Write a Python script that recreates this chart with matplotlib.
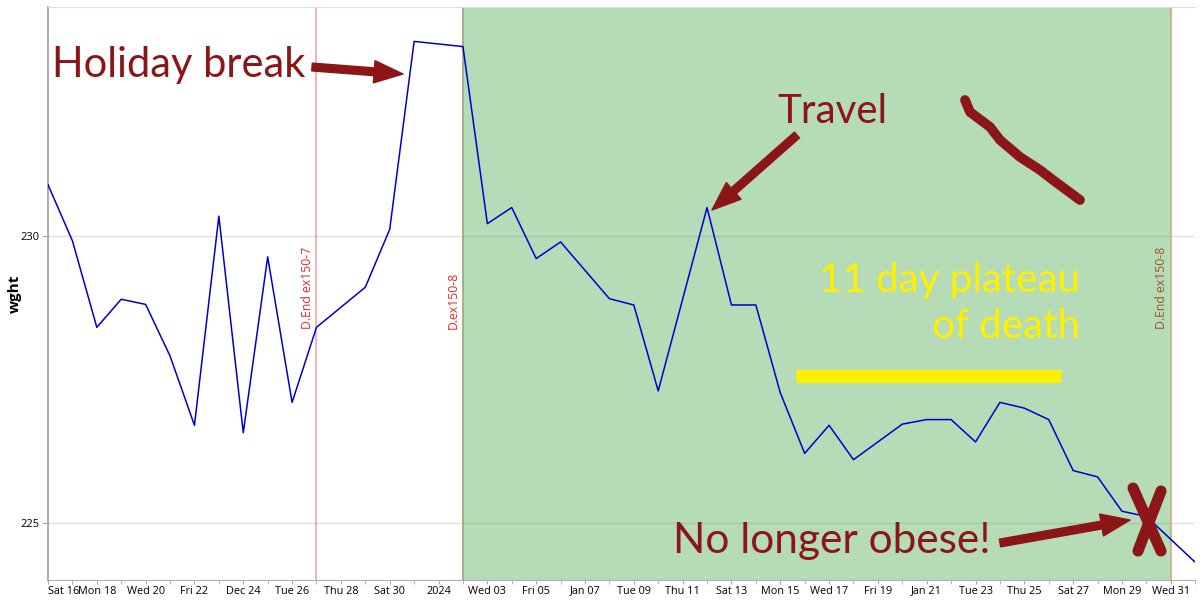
import datetime as dt
import matplotlib
matplotlib.use("Agg")
import matplotlib.pyplot as plt
import matplotlib.dates as mdates

# ---- data ----
dates = ["2023-12-16", "2023-12-17", "2023-12-18", "2023-12-19", "2023-12-20",
         "2023-12-21", "2023-12-22", "2023-12-23", "2023-12-24", "2023-12-25",
         "2023-12-26", "2023-12-27", "2023-12-29", "2023-12-30", "2023-12-31",
         "2024-01-02", "2024-01-03", "2024-01-04", "2024-01-05", "2024-01-06",
         "2024-01-08", "2024-01-09", "2024-01-10", "2024-01-12", "2024-01-13",
         "2024-01-14", "2024-01-15", "2024-01-16", "2024-01-17", "2024-01-18",
         "2024-01-20", "2024-01-21", "2024-01-22", "2024-01-23", "2024-01-24",
         "2024-01-25", "2024-01-26", "2024-01-27", "2024-01-28", "2024-01-29",
         "2024-01-30", "2024-02-01"]
wght = [230.90, 229.92, 228.41, 228.90, 228.81,
        227.91, 226.70, 230.35, 226.57, 229.64,
        227.10, 228.41, 229.11, 230.12, 233.40,
        233.31, 230.22, 230.50, 229.61, 229.90,
        228.91, 228.80, 227.30, 230.50, 228.80,
        228.80, 227.27, 226.21, 226.70, 226.10,
        226.72, 226.80, 226.80, 226.41, 227.10,
        227.00, 226.80, 225.91, 225.80, 225.20,
        225.11, 224.31]

tick_dates = ["2023-12-16", "2023-12-18", "2023-12-20", "2023-12-22", "2023-12-24",
              "2023-12-26", "2023-12-28", "2023-12-30", "2024-01-01", "2024-01-03",
              "2024-01-05", "2024-01-07", "2024-01-09", "2024-01-11", "2024-01-13",
              "2024-01-15", "2024-01-17", "2024-01-19", "2024-01-21", "2024-01-23",
              "2024-01-25", "2024-01-27", "2024-01-29", "2024-01-31"]
tick_labels = ["Sat 16", "Mon 18", "Wed 20", "Fri 22", "Dec 24", "Tue 26", "Thu 28",
               "Sat 30", "2024", "Wed 03", "Fri 05", "Jan 07", "Tue 09", "Thu 11",
               "Sat 13", "Mon 15", "Wed 17", "Fri 19", "Jan 21", "Tue 23", "Thu 25",
               "Sat 27", "Mon 29", "Wed 31"]
yticks = [225, 230]

events = ["2023-12-27", "2024-01-02", "2024-01-31"]
event_labels = ["D.End ex150-7", "D.ex150-8", "D.End ex150-8"]
event_line_colors = ["#f2a6a6", "#a3a37a", "#c9ad82"]
event_text_colors = ["#e8282a", "#e8282a", "#a0522d"]
shade_span = ["2024-01-02", "2024-01-31"]

def d(s):
    return dt.datetime.strptime(s, "%Y-%m-%d")

x = [d(s) for s in dates]

fig = plt.figure(figsize=(12, 6), dpi=100)
ax = fig.add_axes([0.04, 0.0333, 0.956, 0.955])

ax.axvspan(d(shade_span[0]), d(shade_span[1]), color="#b5dbb7", zorder=0, lw=0)
for e, lc in zip(events, event_line_colors):
    ax.axvline(d(e), color=lc, lw=1.2, zorder=1)

ax.plot(x, wght, color="#0000cc", lw=1.1, zorder=3)

ax.set_xlim(d("2023-12-16"), d("2024-02-01"))
ax.set_ylim(224.0, 234.0)
ax.set_yticks(yticks)
ax.set_yticklabels([str(v) for v in yticks], fontsize=8, family="Open Sans")
ax.set_xticks([d(s) for s in tick_dates])
ax.set_xticklabels(tick_labels, fontsize=7.8, family="Open Sans")
ax.xaxis.set_minor_locator(mdates.DayLocator())
ax.tick_params(axis="x", which="both", length=3, color="#aaaaaa", pad=1)
ax.tick_params(axis="y", length=4, color="#aaaaaa", pad=2)
for lbl in ax.get_xticklabels()[:1]:
    lbl.set_horizontalalignment("left")
ax.grid(axis="y", color="#888888", alpha=0.25, lw=1, zorder=2)
ax.set_axisbelow(False)
ax.spines["right"].set_visible(False)
ax.spines["top"].set_color("#dddddd")
ax.spines["left"].set_color("#b0b0b0")
ax.spines["bottom"].set_color("#b0b0b0")
ax.spines["left"].set_linewidth(1.5)
ax.set_ylabel("wght", fontsize=11, fontweight="bold", family="Open Sans")
ax.yaxis.set_label_coords(-0.0225, 0.5)

for e, lab, tc in zip(events, event_labels, event_text_colors):
    ax.annotate(lab, xy=(d(e), 228.38), xytext=(-2, 0), textcoords="offset points",
                rotation=90, ha="right", va="bottom", fontsize=8.8, color=tc,
                family="Open Sans")

red = "#8c1518"
yellow = "#fff000"
font = "Lato"
def fp(px, py):
    return (px, 600 - py)

fig.text(52 / 1200, 1 - 77 / 600, "Holiday break", fontsize=30, color=red,
         family=font, va="baseline", ha="left")
fig.text(777 / 1200, 1 - 123 / 600, "Travel", fontsize=29, color=red,
         family=font, va="baseline", ha="left")
fig.text(673 / 1200, 1 - 553 / 600, "No longer obese!", fontsize=30.5, color=red,
         family=font, va="baseline", ha="left")
fig.text(1080 / 1200, 1 - 292 / 600, "11 day plateau", fontsize=29, color=yellow,
         family=font, va="baseline", ha="right")
fig.text(1080 / 1200, 1 - 338 / 600, "of death", fontsize=29, color=yellow,
         family=font, va="baseline", ha="right")

astyle = dict(arrowstyle="simple,head_length=1.3,head_width=1.0,tail_width=0.35",
              color=red, mutation_scale=16, shrinkA=0, shrinkB=0)
for tail, head in [((312, 67), (403, 74)), ((797, 135), (712, 210)),
                   ((1000, 543), (1130, 520))]:
    ax.annotate("", xy=fp(*head), xycoords="figure pixels",
                xytext=fp(*tail), textcoords="figure pixels", arrowprops=astyle)

# yellow bar
ax.plot([796 / 1200, 1061 / 1200], [1 - 376 / 600, 1 - 376 / 600],
        transform=fig.transFigure, color=yellow, lw=9.5, solid_capstyle="butt",
        zorder=5)
# squiggle
sq_x = [965, 970, 990, 1000, 1020, 1040, 1053, 1080]
sq_y = [100, 112, 127, 140, 157, 170, 180, 200]
ax.plot([v / 1200 for v in sq_x], [1 - v / 600 for v in sq_y],
        transform=fig.transFigure, color=red, lw=7, solid_capstyle="round",
        solid_joinstyle="round", zorder=5)
# X mark
for (x0, y0), (x1, y1) in [((1133, 488), (1161, 551)), ((1161, 491), (1138, 551))]:
    ax.plot([x0 / 1200, x1 / 1200], [1 - y0 / 600, 1 - y1 / 600],
            transform=fig.transFigure, color=red, lw=8, solid_capstyle="round",
            zorder=5)

fig.savefig("out.png", dpi=100)
